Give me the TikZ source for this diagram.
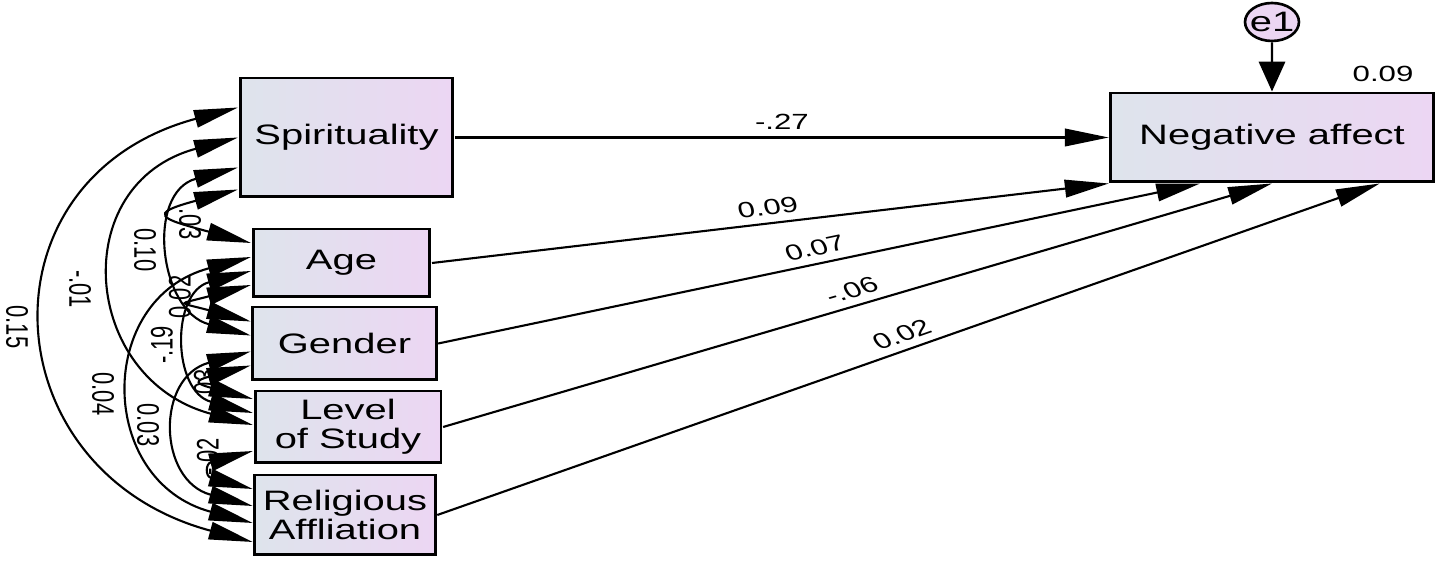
\documentclass[tikz,border=0pt]{standalone}
\usepackage{fontspec}
\setmainfont{Liberation Sans}
\usetikzlibrary{arrows.meta}
\usetikzlibrary{calc}
\definecolor{boxleft}{RGB}{222,228,236}
\definecolor{boxright}{RGB}{236,214,243}
\tikzstyle{var} = [draw,line width=1.7pt,left color=boxleft,right color=boxright,xscale=1.42,align=center,inner sep=0pt,font=\fontsize{16}{16.5}\selectfont]
\tikzstyle{err} = [draw,circle,line width=1.5pt,fill=boxright,xscale=1.42,inner sep=0pt,minimum size=0.76cm,font=\fontsize{16}{16}\selectfont]
\tikzstyle{lab} = [xscale=1.42,inner sep=1pt,font=\fontsize{12.5}{12.5}\selectfont]
\tikzstyle{reg} = [line width=1.2pt,-{Triangle[length=25pt,width=10pt]}]
\tikzstyle{cov} = [line width=1.2pt,{Triangle[length=25pt,width=10pt]}-{Triangle[length=25pt,width=10pt]}]

\begin{document}
\begin{tikzpicture}[x=0.02cm,y=-0.02cm]
\useasboundingbox (0,0) rectangle (1441,563);

% exogenous variables
\node[var,minimum width=3.0cm,minimum height=2.38cm] (S) at (346.5,137.5) {Spirituality};
\node[var,minimum width=2.49cm,minimum height=1.36cm] (A) at (341.5,263) {Age};
\node[var,minimum width=2.58cm,minimum height=1.46cm] (G) at (344.5,343.5) {Gender};
\node[var,minimum width=2.62cm,minimum height=1.44cm] (L) at (348,427) {Level\\of Study};
\node[var,minimum width=2.54cm,minimum height=1.6cm] (R) at (345,515) {Religious\\Affliation};

\node[var,minimum width=4.54cm,minimum height=1.78cm] (NA) at (1272,137.5) {Negative affect};
\node[err] (e1) at (1272,22) {e1};
\draw(1383,74) node[lab] (r2) {0.09};

\draw[reg,-{Triangle[length=17pt,width=15pt]}] (e1) -- (NA);

% regression weights
\draw[reg] (S) -- (NA) node[lab,midway,above=3pt] (wS) {-.27};
\draw[reg] (A.east) -- (NA.south west) node[lab,midway,above=3pt,rotate=9.6] (wA) {0.09};
\draw[reg] (G.east) -- ($(NA.south west)!0.28!(NA.south east)$) node[lab,midway,above=3pt,rotate=16.7] (wG) {0.07};
\draw[reg] (L.east) -- (NA.south) node[lab,midway,above=3pt,rotate=22.7] (wL) {-.06};
\draw[reg] (R.east) -- ($(NA.south west)!0.83!(NA.south east)$) node[lab,midway,above=3pt,rotate=26.6] (wR) {0.02};

% covariances
\draw[cov] ($(S.west)+(0,-30)$) to[out=195,in=165,looseness=1.6] ($(R.west)+(0,27)$);
\draw[cov] ($(S.west)+(0,0)$) to[out=195,in=165,looseness=1.58] ($(L.west)+(0,-2)$);
\draw[cov] ($(S.west)+(0,30)$) to[out=195,in=165,looseness=1.45] ($(G.west)+(0,-8)$);
\draw[cov] ($(S.west)+(0,52)$) to[out=195,in=165,looseness=4.4] ($(A.west)+(0,-20)$);
\draw[cov] ($(A.west)+(0,-6)$) to[out=195,in=165,looseness=1.55] ($(R.west)+(0,8)$);
\draw[cov] ($(A.west)+(0,8)$) to[out=195,in=165,looseness=1.5] ($(L.west)+(0,-14)$);
\draw[cov] ($(A.west)+(0,22)$) to[out=195,in=165,looseness=5.4] ($(G.west)+(0,-22)$);
\draw[cov] ($(G.west)+(0,8)$) to[out=195,in=165,looseness=1.63] ($(R.west)+(0,-9)$);
\draw[cov] ($(G.west)+(0,22)$) to[out=195,in=165,looseness=4.5] ($(L.west)+(0,-28)$);
\draw[cov] ($(L.west)+(0,24)$) to[out=195,in=165,looseness=3.3] ($(R.west)+(0,-26)$);

\draw(17,327) node[lab,rotate=-90] (cSR) {0.15};
\draw(80,289) node[lab,rotate=-90] (cSL) {-.01};
\draw(145,250) node[lab,rotate=-90] (cSG) {0.10};
\draw(190,224) node[lab,rotate=-90] (cSA) {.03};
\draw(103,394) node[lab,rotate=-90] (cAR) {0.04};
\draw(148,425) node[lab,rotate=-90] (cGR) {0.03};
\draw(162,345) node[lab,rotate=90] (cAL) {-.19};
\draw(180,297) node[lab,rotate=90] (cAG) {0.02};
\draw(205,385) node[lab,rotate=90] (cGL) {.03};
\draw(208,457) node[lab,rotate=90] (cLR) {-.02};

\end{tikzpicture}
\end{document}
